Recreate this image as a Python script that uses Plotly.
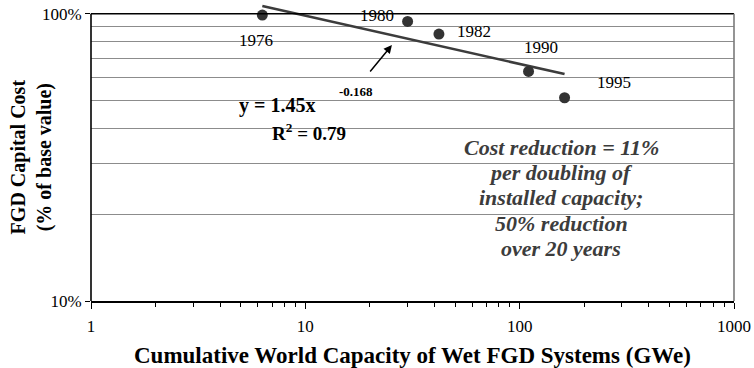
import numpy as np
import plotly.graph_objects as go

# Wet FGD systems: installed capacity vs. capital cost (relative to 1976)
years = ["1976", "1980", "1982", "1990", "1995"]
capacity_gwe = [6.3, 30, 42, 110, 162]
cost_frac = [0.99, 0.94, 0.85, 0.63, 0.51]

# power-law experience curve reported for the series
FIT_A = 1.45
FIT_B = -0.168
FIT_R2 = 0.79

x_ticks = [1, 10, 100, 1000]
x_ticktext = ["1", "10", "100", "1000"]
y_ticks = [0.1, 1.0]
y_ticktext = ["10%", "100%"]

note_lines = [
    "Cost reduction = 11%",
    "per doubling of",
    "installed capacity;",
    "50% reduction",
    "over 20 years",
]

# label offsets (px) of each year relative to its marker
label_dx = [-6, -31, 35, 12, 49]
label_dy = [-25, 6, 3, 24, 15]

SERIF = "Liberation Serif, Times New Roman, serif"
DARK = "#3c3c3c"
GRID = "#8c8c8c"

Y_RANGE = [-1, 0.034]
y_top = (0 - Y_RANGE[0]) / (Y_RANGE[1] - Y_RANGE[0])  # paper y of the 100% line

x_fit = np.geomspace(min(capacity_gwe), max(capacity_gwe), 60)
y_fit = FIT_A * x_fit ** FIT_B

fig = go.Figure()
fig.add_trace(go.Scatter(
    x=x_fit, y=y_fit, mode="lines",
    line=dict(color=DARK, width=2.6),
    hoverinfo="skip", showlegend=False,
))
fig.add_trace(go.Scatter(
    x=capacity_gwe, y=cost_frac, mode="markers",
    marker=dict(color="#333333", size=11, line=dict(width=0)),
    cliponaxis=False, showlegend=False,
))

annotations = []
for yr, xv, yv, dx, dy in zip(years, capacity_gwe, cost_frac, label_dx, label_dy):
    annotations.append(dict(
        x=np.log10(xv), y=np.log10(yv), xref="x", yref="y",
        text=yr, showarrow=False, xshift=dx, yshift=dy,
        font=dict(family=SERIF, size=17, color="black"),
    ))

# fit equation and goodness of fit
annotations += [
    dict(x=np.log10(7.37), y=np.log10(0.480), xref="x", yref="y",
         text=f"<b>y = {FIT_A:.2f}x</b>", showarrow=False,
         font=dict(family=SERIF, size=20, color="black")),
    dict(x=np.log10(17.3), y=np.log10(0.535), xref="x", yref="y",
         text=f"<b>{FIT_B:.3f}</b>", showarrow=False,
         font=dict(family=SERIF, size=13, color="black")),
    dict(x=np.log10(10.42), y=np.log10(0.388), xref="x", yref="y",
         text=f"<b>R<sup>2</sup> = {FIT_R2:.2f}</b>", showarrow=False,
         font=dict(family=SERIF, size=19, color="black")),
    # arrow pointing at the fitted curve
    dict(x=np.log10(25.35), y=np.log10(0.778), xref="x", yref="y",
         ax=-23, ay=28, axref="pixel", ayref="pixel",
         text="", showarrow=True, arrowhead=2, arrowsize=1.1,
         arrowwidth=1.5, arrowcolor="black"),
]

# boxed note, one annotation per line for tight line spacing
for i, line in enumerate(note_lines):
    annotations.append(dict(
        x=np.log10(156.2), y=-0.6409, xref="x", yref="y",
        yshift=(2 - i) * 25.4, text=f"<b><i>{line}</i></b>",
        showarrow=False, xanchor="center", yanchor="middle",
        font=dict(family=SERIF, size=22, color=DARK),
    ))

# axis titles
annotations += [
    dict(x=0, y=-0.5, xref="paper", yref="y", xshift=-60,
         xanchor="center", yanchor="middle",
         text="<b>FGD Capital Cost<br>(% of base value)</b>", textangle=-90,
         showarrow=False, font=dict(family=SERIF, size=20, color="black")),
    dict(x=0.5, y=-1, xref="paper", yref="y", yshift=-54.5,
         xanchor="center", yanchor="middle",
         text="<b>Cumulative World Capacity of Wet FGD Systems (GWe)</b>",
         showarrow=False, font=dict(family=SERIF, size=23, color="black")),
]

shapes = [
    # white panel behind the note
    dict(type="rect", xref="paper", yref="paper",
         x0=0.5474, x1=0.9113, y0=0.131, y1=0.569,
         fillcolor="white", line=dict(width=0), layer="between"),
    # top frame line at 100%
    dict(type="line", xref="paper", yref="paper", x0=0, x1=1, y0=y_top, y1=y_top,
         line=dict(color="black", width=1.6)),
    # left axis line
    dict(type="line", xref="paper", yref="paper", x0=0, x1=0, y0=0, y1=y_top,
         line=dict(color="black", width=1.6)),
    # right frame line
    dict(type="line", xref="paper", yref="paper", x0=1, x1=1, y0=0, y1=y_top,
         line=dict(color="#7a7a7a", width=1.6)),
]

minor_x = [m * 10 ** d for d in range(3) for m in range(2, 10)]
minor_y = [m / 10 for m in range(2, 10)]

fig.update_layout(
    width=754, height=368,
    margin=dict(l=91, r=20, t=4, b=67),
    plot_bgcolor="white", paper_bgcolor="white",
    font=dict(family=SERIF, size=17, color="black"),
    annotations=annotations, shapes=shapes,
    xaxis=dict(
        type="log", range=[0, 3],
        tickvals=x_ticks, ticktext=x_ticktext,
        ticks="outside", ticklen=6, tickwidth=1, tickcolor="black",
        ticklabelstandoff=3,
        showline=True, linecolor="black", linewidth=1.6,
        showgrid=False, zeroline=False,
        minor=dict(tickvals=minor_x, ticks="outside", ticklen=4,
                   tickcolor="black", tickwidth=1, showgrid=False),
        tickfont=dict(family=SERIF, size=17),
    ),
    yaxis=dict(
        type="log", range=Y_RANGE,
        tickvals=y_ticks, ticktext=y_ticktext,
        ticks="outside", ticklen=5, tickwidth=1, tickcolor="black",
        showline=False, showgrid=False, zeroline=False,
        minor=dict(tickvals=minor_y, ticks="", showgrid=True,
                   gridcolor=GRID, gridwidth=1),
        tickfont=dict(family=SERIF, size=17),
    ),
)

fig.write_html("out.html")
